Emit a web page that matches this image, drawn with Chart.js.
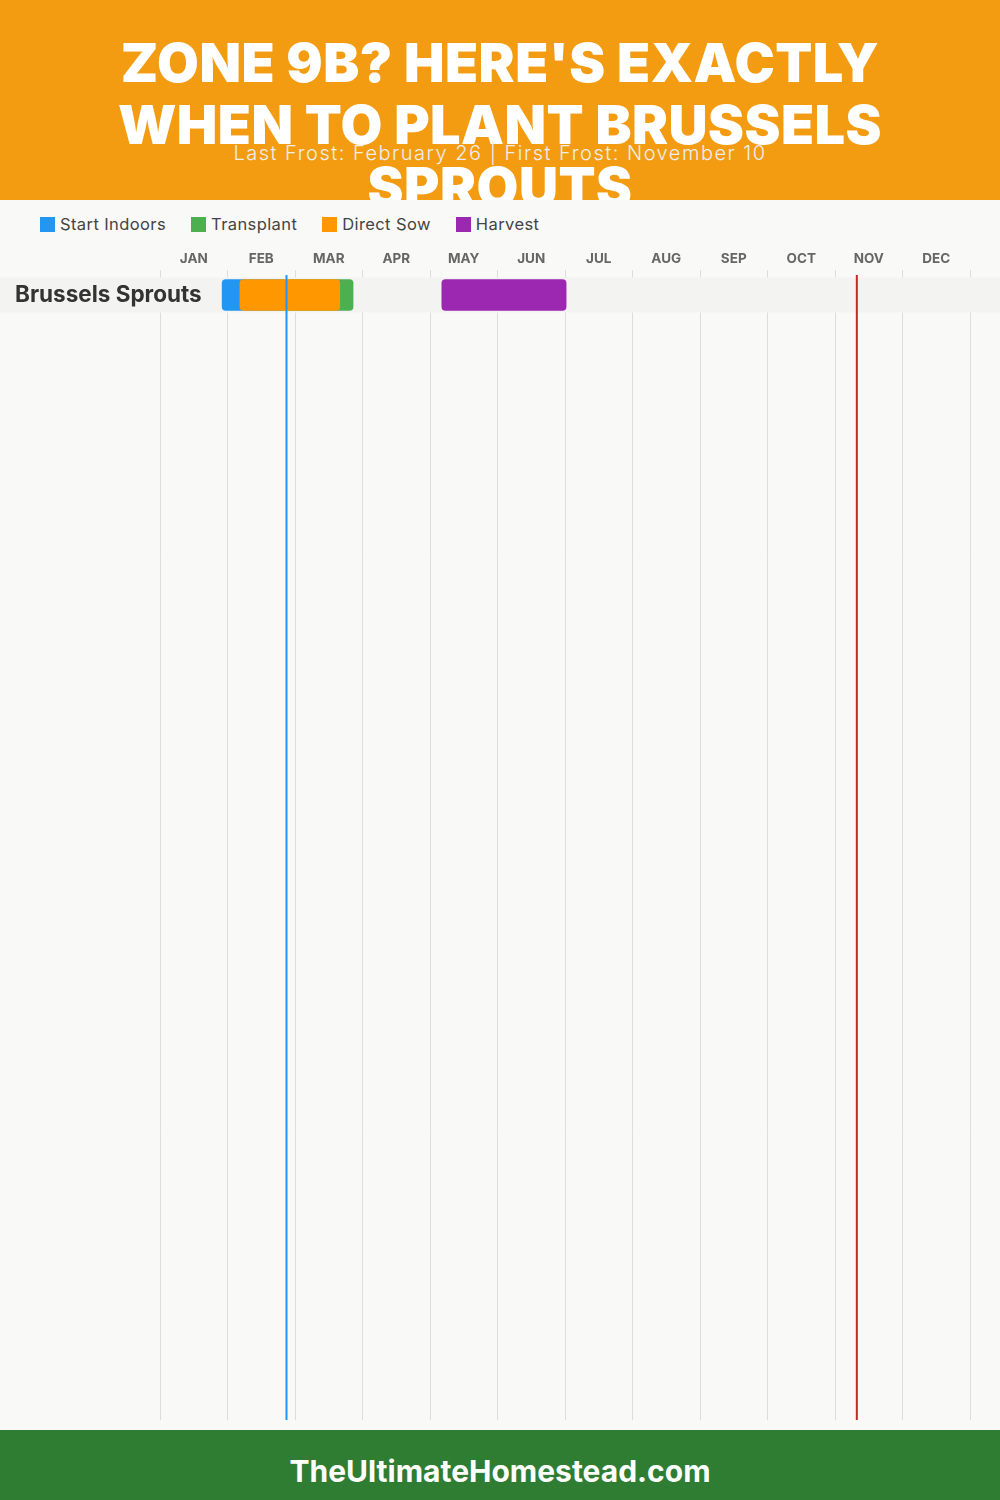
<!DOCTYPE html>
<html>
<head>
  <title>Zone 9B Brussels Sprouts Planting Calendar</title>
  <script src="https://cdn.jsdelivr.net/npm/chart.js"></script>
  <style>
    body { margin: 0; width: 1000px; height: 1500px; background: #f9f9f7; font-family: Inter, "Open Sans", sans-serif; position: relative; overflow: hidden; }
    .header { position: absolute; left: 0; top: 0; width: 1000px; height: 200px; background: #f39c12; overflow: hidden; z-index: 2; }
    .header h1 { margin: 0; padding-top: 32px; font-size: 54px; line-height: 62px; font-weight: 900; letter-spacing: 0.5px; color: #fff; text-align: center; white-space: nowrap; }
    .header .sub { position: absolute; left: 0; right: 0; top: 141px; text-align: center; font-size: 20px; font-weight: 300; letter-spacing: 1.5px; color: #eeeeee; }
    #legend { position: absolute; left: 40px; top: 214px; display: flex; gap: 25px; font-size: 16.5px; letter-spacing: 0.4px; color: #444; }
    #legend .item { display: flex; align-items: center; }
    #legend .box { width: 15px; height: 15px; margin-right: 5px; }
    .chartWrap { position: absolute; left: 0; top: 240px; width: 1000px; height: 1190px; }
    .footer { position: absolute; left: 0; top: 1430px; width: 1000px; height: 70px; overflow: hidden; background: #2e7d32; color: #fff; font-weight: 700; font-size: 30px; text-align: center; line-height: 82px; }
  </style>
</head>
<body>
  <div class="header">
    <h1>ZONE 9B? HERE'S EXACTLY<br>WHEN TO PLANT BRUSSELS<br>SPROUTS</h1>
    <div class="sub">Last Frost: February 26 | First Frost: November 10</div>
  </div>
  <div id="legend"></div>
  <div class="chartWrap"><canvas id="cal"></canvas></div>
  <div class="footer">TheUltimateHomestead.com</div>

  <script>
    const crops = ['Brussels Sprouts'];
    const months = ['JAN', 'FEB', 'MAR', 'APR', 'MAY', 'JUN', 'JUL', 'AUG', 'SEP', 'OCT', 'NOV', 'DEC'];
    const seriesNames = ['Start Indoors', 'Transplant', 'Direct Sow', 'Harvest'];
    const seriesColors = ['#2196f3', '#4caf50', '#ff9800', '#9c27b0'];

    // day-of-year ranges, one per crop
    const startIndoors = [[28, 57]];
    const transplant = [[57, 87]];
    const directSow = [[36, 81]];
    const harvest = [[127, 183]];

    // last frost Feb 26, first frost Nov 10
    const frostDays = [57, 314];
    const frostColors = ['#2196f3', '#c62828'];

    const legend = document.getElementById('legend');
    seriesNames.forEach((name, i) => {
      const item = document.createElement('div');
      item.className = 'item';
      item.innerHTML = '<span class="box" style="background:' + seriesColors[i] + '"></span>' + name;
      legend.appendChild(item);
    });

    const rowH = 35;
    const yMin = -25 / rowH;
    const yMax = yMin + 1150 / rowH;

    const calendarLayers = {
      id: 'calendarLayers',
      beforeDatasetsDraw(chart) {
        const { ctx, scales: { y }, width } = chart;
        ctx.save();
        ctx.fillStyle = '#f3f3f2';
        crops.forEach((c, i) => {
          const py = y.getPixelForValue(i);
          ctx.fillRect(0, py - rowH / 2, width, rowH);
        });
        ctx.restore();
      },
      afterDatasetsDraw(chart) {
        const { ctx, scales: { x }, chartArea } = chart;
        ctx.save();
        ctx.lineWidth = 2;
        frostDays.forEach((d, i) => {
          const px = x.getPixelForValue(d);
          ctx.strokeStyle = frostColors[i];
          ctx.beginPath();
          ctx.moveTo(px, chartArea.top + 5);
          ctx.lineTo(px, chartArea.bottom);
          ctx.stroke();
        });
        ctx.restore();
      }
    };

    const toBars = arr => arr.map((r, i) => ({ y: i, x: r }));
    const seriesData = [startIndoors, transplant, directSow, harvest];
    const drawOrder = [3, 2, 0, 1];

    Chart.defaults.font.family = 'Inter, "Open Sans", sans-serif';

    new Chart(document.getElementById('cal'), {
      type: 'bar',
      data: {
        datasets: seriesData.map((d, i) => ({
          label: seriesNames[i],
          data: toBars(d),
          backgroundColor: seriesColors[i],
          order: drawOrder[i],
          grouped: false,
          barThickness: 31,
          borderRadius: 4,
          borderSkipped: false
        }))
      },
      options: {
        indexAxis: 'y',
        responsive: true,
        maintainAspectRatio: false,
        animation: false,
        layout: { padding: { left: 15, right: 30, top: 0, bottom: 10 } },
        plugins: { legend: { display: false }, tooltip: { enabled: false } },
        scales: {
          x: {
            type: 'linear',
            position: 'top',
            min: 0,
            max: 365,
            afterBuildTicks: s => { s.ticks = Array.from({ length: 25 }, (_, j) => ({ value: 365 * j / 24 })); },
            afterFit: s => { s.height = 30; },
            ticks: {
              autoSkip: false,
              maxRotation: 0,
              padding: 3,
              color: '#666',
              font: { size: 13.5, weight: 'bold' },
              callback: (v, i) => i % 2 ? months[(i - 1) / 2] : ''
            },
            grid: {
              drawTicks: false,
              color: c => c.index % 2 === 0 ? '#dddddd' : 'rgba(0,0,0,0)'
            },
            border: { display: false }
          },
          y: {
            type: 'linear',
            reverse: true,
            offset: false,
            min: yMin,
            max: yMax,
            afterBuildTicks: s => { s.ticks = crops.map((c, i) => ({ value: i })); },
            afterFit: s => { s.width = 145; },
            ticks: {
              z: 1,
              mirror: true,
              padding: -145,
              autoSkip: false,
              color: '#333',
              font: { size: 22.5, weight: 'bold' },
              callback: v => crops[v] ?? ''
            },
            grid: { display: false, offset: false },
            border: { display: false }
          }
        }
      },
      plugins: [calendarLayers]
    });
  </script>
</body>
</html>
